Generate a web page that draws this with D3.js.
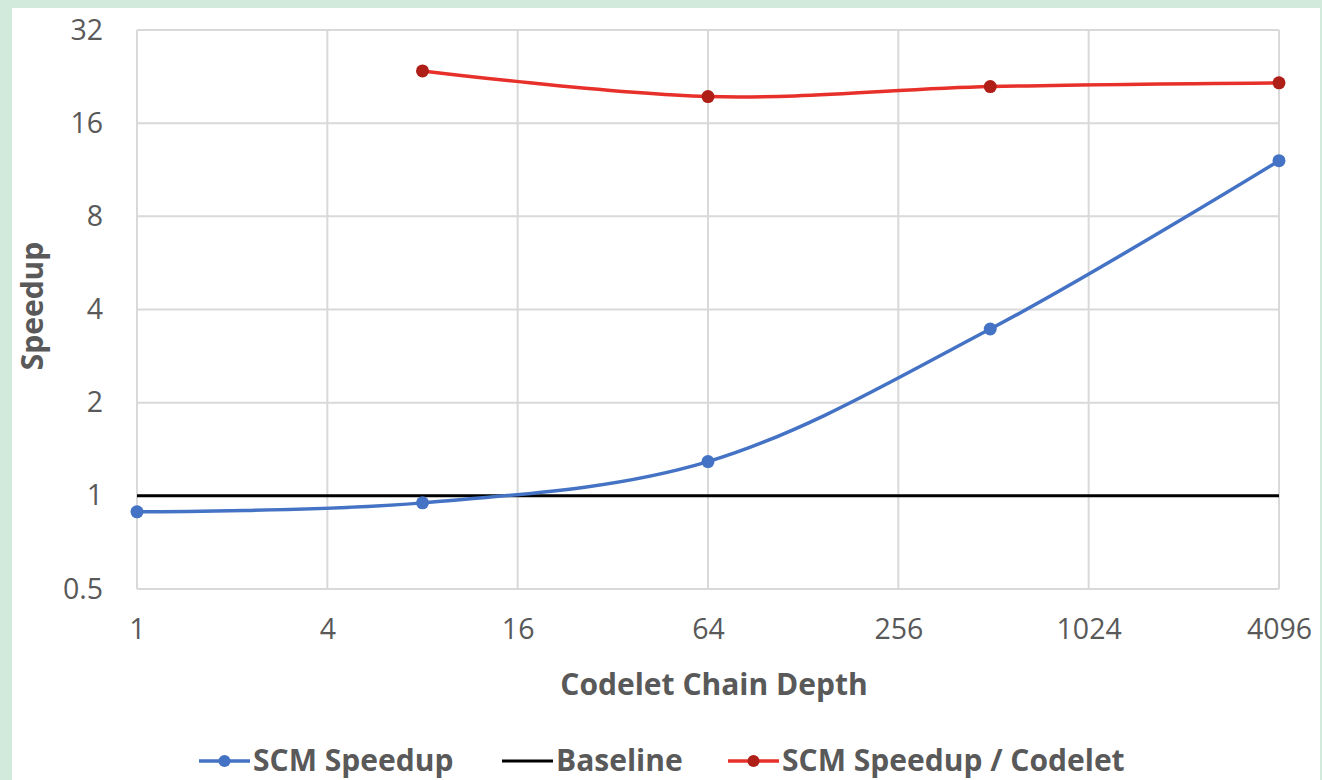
<!DOCTYPE html>
<html>
<head>
<meta charset="utf-8">
<script src="https://cdn.jsdelivr.net/npm/d3@7"></script>
<style>
  body { margin: 0; background: #fff; }
  text { font-family: "Open Sans", Lato, sans-serif; fill: #595959; }
</style>
</head>
<body>
<svg id="chart" width="1322" height="780"></svg>
<script>
// values
var xTicks = [1, 4, 16, 64, 256, 1024, 4096];
var yTicks = [0.5, 1, 2, 4, 8, 16, 32];

var speedupX = [1, 8, 64, 500, 4096];
var speedupY = [0.888, 0.949, 1.29, 3.46, 12.1];

var perCodeletX = [8, 64, 500, 4096];
var perCodeletY = [23.6, 19.5, 21.0, 21.6];

var baselineX = [1, 4096];
var baselineY = [1, 1];

var seriesNames = ["SCM Speedup", "Baseline", "SCM Speedup / Codelet"];

var svg = d3.select("#chart");

// light green frame around the slide
svg.append("rect").attr("width", 1322).attr("height", 780).attr("fill", "#d2eadb");
svg.append("rect").attr("x", 12).attr("y", 8).attr("width", 1308).attr("height", 772).attr("fill", "#fff");

var margin = {left: 137, right: 43, top: 30, bottom: 191};
var w = 1322 - margin.left - margin.right,
    h = 780 - margin.top - margin.bottom;

var x = d3.scaleLog().base(2).domain([1, 4096]).range([0, w]);
var y = d3.scaleLog().base(2).domain([0.5, 32]).range([h, 0]);

var g = svg.append("g").attr("transform", "translate(" + margin.left + "," + margin.top + ")");

// gridlines
g.append("g").selectAll("line").data(xTicks).join("line")
    .attr("x1", d => x(d)).attr("x2", d => x(d))
    .attr("y1", 0).attr("y2", h)
    .attr("stroke", "#d9d9d9").attr("stroke-width", 2);
g.append("g").selectAll("line").data(yTicks).join("line")
    .attr("x1", 0).attr("x2", w)
    .attr("y1", d => y(d)).attr("y2", d => y(d))
    .attr("stroke", "#d9d9d9").attr("stroke-width", 2);

// tick labels
var xAxis = g.append("g").attr("transform", "translate(0," + h + ")")
    .call(d3.axisBottom(x).tickValues(xTicks).tickFormat(d3.format("d")).tickSize(0).tickPadding(30));
var yAxis = g.append("g")
    .call(d3.axisLeft(y).tickValues(yTicks).tickFormat(d => d).tickSize(0).tickPadding(34));
[xAxis, yAxis].forEach(function(a) {
  a.select(".domain").remove();
  a.selectAll("text").attr("font-size", 28.5).attr("fill", "#595959")
    .style("font-family", "'Open Sans', sans-serif");
});

// axis titles
svg.append("text").attr("x", 714).attr("y", 695)
    .attr("text-anchor", "middle").attr("font-size", 30).attr("font-weight", "bold")
    .text("Codelet Chain Depth");
svg.append("text").attr("transform", "translate(43,306) rotate(-90)")
    .attr("text-anchor", "middle").attr("font-size", 30).attr("font-weight", "bold")
    .text("Speedup");

var line = d3.line().x(d => x(d[0])).y(d => y(d[1])).curve(d3.curveCatmullRom.alpha(0.5));
var straight = d3.line().x(d => x(d[0])).y(d => y(d[1]));

var blue = "#4472c4", red = "#e8302a", redDot = "#b01e18";

// baseline
g.append("path").datum(d3.zip(baselineX, baselineY))
    .attr("d", straight).attr("fill", "none").attr("stroke", "#000").attr("stroke-width", 3);

// SCM speedup
var sp = d3.zip(speedupX, speedupY);
g.append("path").datum(sp).attr("d", line)
    .attr("fill", "none").attr("stroke", blue).attr("stroke-width", 3.5);
g.append("g").selectAll("circle").data(sp).join("circle")
    .attr("cx", d => x(d[0])).attr("cy", d => y(d[1])).attr("r", 6.5).attr("fill", blue);

// SCM speedup per codelet
var pc = d3.zip(perCodeletX, perCodeletY);
g.append("path").datum(pc).attr("d", line)
    .attr("fill", "none").attr("stroke", red).attr("stroke-width", 3.5);
g.append("g").selectAll("circle").data(pc).join("circle")
    .attr("cx", d => x(d[0])).attr("cy", d => y(d[1])).attr("r", 6.5).attr("fill", redDot);

// legend
var legendX = [199, 502, 728];
var legendColors = [blue, "#000", red];
var legendDots = [blue, null, redDot];
var lg = svg.append("g").attr("transform", "translate(0,761)");
seriesNames.forEach(function(name, i) {
  var item = lg.append("g").attr("transform", "translate(" + legendX[i] + ",0)");
  item.append("line").attr("x1", 0).attr("x2", 51).attr("y1", 0).attr("y2", 0)
      .attr("stroke", legendColors[i]).attr("stroke-width", i == 1 ? 3 : 3.5);
  if (legendDots[i]) item.append("circle").attr("cx", 25.5).attr("cy", 0).attr("r", 6).attr("fill", legendDots[i]);
  item.append("text").attr("x", 54).attr("y", 10).attr("font-size", 30).attr("font-weight", "bold").text(name);
});
</script>
</body>
</html>
